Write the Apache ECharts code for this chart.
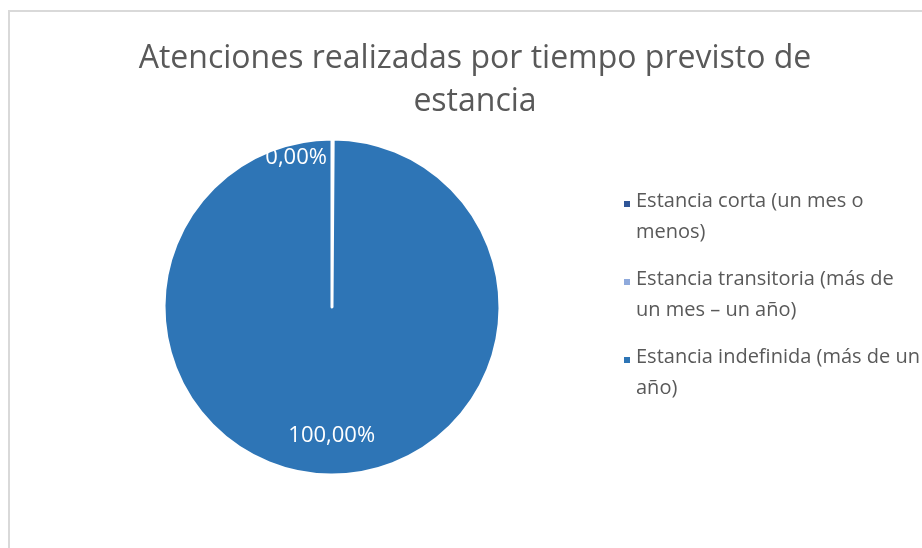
<!DOCTYPE html>
<html lang="es">
<head>
<meta charset="UTF-8">
<title>Atenciones realizadas por tiempo previsto de estancia</title>
<script src="https://cdn.jsdelivr.net/npm/echarts@6/dist/echarts.min.js"></script>
<style>
  html, body { margin: 0; padding: 0; background: #fff; }
  #chart { width: 922px; height: 548px; }
</style>
</head>
<body>
<div id="chart"></div>
<script>
// datos
var categorias = ['Estancia corta (un mes o menos)', 'Estancia transitoria (más de un mes – un año)', 'Estancia indefinida (más de un año)'];
var valores = [0, 0, 100];
var colores = ['#2F5597', '#8FAADC', '#2E75B6'];
// cortes de línea de la leyenda, como en el original
var leyendaTexto = {
  'Estancia corta (un mes o menos)': 'Estancia corta (un mes o\nmenos)',
  'Estancia transitoria (más de un mes – un año)': 'Estancia transitoria (más de\nun mes – un año)',
  'Estancia indefinida (más de un año)': 'Estancia indefinida (más de un\naño)'
};

var chart = echarts.init(document.getElementById('chart'));
var fuente = '"Open Sans", "Noto Sans", sans-serif';

var datos = categorias.map(function (c, i) {
  var d = { name: c, value: valores[i], itemStyle: { color: colores[i] } };
  if (i === 1) d.label = { show: false };
  return d;
});

var option = {
  animation: false,
  title: {
    text: 'Atenciones realizadas por tiempo previsto de\nestancia',
    left: 470,
    textAlign: 'center',
    top: 32,
    textStyle: { fontFamily: fuente, fontSize: 32, fontWeight: 'normal', color: '#595959', lineHeight: 43 }
  },
  legend: {
    orient: 'vertical',
    left: 617,
    top: 180,
    itemWidth: 8,
    itemHeight: 62,
    itemGap: 14,
    icon: 'path://M0,14h8v8h-8zM0,0M0,62',
    formatter: function (n) { return leyendaTexto[n]; },
    textStyle: { fontFamily: fuente, fontSize: 20, color: '#595959', lineHeight: 31 },
    data: categorias
  },
  graphic: [{
    type: 'rect',
    shape: { x: 9, y: 11, width: 1000, height: 1000 },
    style: { fill: 'none', stroke: '#D9D9D9', lineWidth: 2 },
    silent: true
  }],
  series: [{
    type: 'pie',
    center: [332, 307],
    radius: 168,
    startAngle: 90,
    clockwise: true,
    stillShowZeroSum: true,
    minAngle: 0.2,
    itemStyle: { borderColor: '#fff', borderWidth: 3 },
    label: {
      show: true,
      position: 'inside',
      formatter: function (p) { return p.value.toFixed(2).replace('.', ',') + '%'; },
      fontFamily: fuente,
      fontSize: 22,
      color: '#fff'
    },
    labelLine: { show: false },
    labelLayout: function (p) {
      if (p.dataIndex === 0) return { dx: -36, dy: -62 };
      if (p.dataIndex === 2) return { dy: 42 };
      return {};
    },
    data: datos
  }]
};

chart.setOption(option);
</script>
</body>
</html>
